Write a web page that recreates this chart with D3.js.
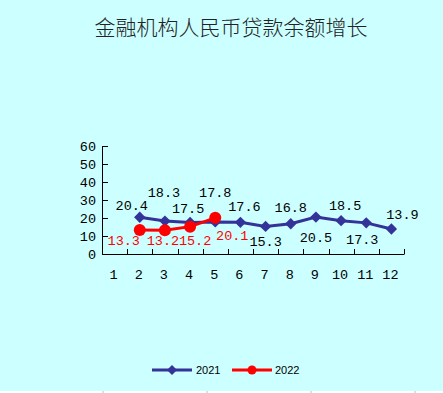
<!DOCTYPE html>
<html><head><meta charset="utf-8">
<script src="https://cdn.jsdelivr.net/npm/d3@7/dist/d3.min.js"></script>
<style>html,body{margin:0;padding:0;background:#ccffff;overflow:hidden}</style>
</head><body><svg id="c" width="443" height="393"></svg>
<script>
const title = "金融机构人民币贷款余额增长";
const months = [1,2,3,4,5,6,7,8,9,10,11,12];
const yTicks = [0,10,20,30,40,50,60];
const months2021 = [2,3,4,5,6,7,8,9,10,11,12];
const values2021 = [20.4,18.3,17.5,17.8,17.6,15.3,16.8,20.5,18.5,17.3,13.9];
const months2022 = [2,3,4,5];
const values2022 = [13.3,13.2,15.2,20.1];
const seriesNames = ["2021","2022"];
// label placement offsets (layout only)
const labelOff2021 = [[-8,-7],[-1,-24],[-2,-10],[0,-25],[4,-11],[0,20],[0,-12],[0,25],[4,-11],[-4,21],[11,-10]];
const labelOff2022 = [[-16,15],[-2,15],[5,18],[17,22]];

const svg = d3.select("#c");
svg.append("rect").attr("width",443).attr("height",393).attr("fill","#ccffff");
svg.append("rect").attr("y",391).attr("width",443).attr("height",2).attr("fill","#fff");
[103,207,311,415].forEach(x=>svg.append("line").attr("x1",x).attr("x2",x).attr("y1",391).attr("y2",393).attr("stroke","#bbb"));

svg.append("text").attr("x",231).attr("y",35).attr("text-anchor","middle")
  .attr("font-family","'Noto Sans CJK SC'").attr("font-weight",300).attr("font-size",21).attr("fill","#222").text(title);

const x = d3.scaleBand().domain(months).range([102,404]);
const y = d3.scaleLinear().domain([0,60]).range([254,146]);
const mono = "'Liberation Mono', monospace";
const fs = 13.5;

const g = svg.append("g");
// axes
g.append("line").attr("x1",102.5).attr("x2",102.5).attr("y1",146).attr("y2",254.5).attr("stroke","#000");
g.append("line").attr("x1",102).attr("x2",404.5).attr("y1",254.5).attr("y2",254.5).attr("stroke","#000");
yTicks.forEach(t=>{
  g.append("line").attr("x1",102).attr("x2",108).attr("y1",Math.round(y(t))+0.5).attr("y2",Math.round(y(t))+0.5).attr("stroke","#000");
  g.append("text").attr("x",96).attr("y",y(t)+5).attr("text-anchor","end").attr("font-family",mono).attr("font-size",fs).text(t);
});
months.forEach((m,i)=>{
  const xb = Math.round(x(m)+x.bandwidth())+0.5;
  g.append("line").attr("x1",xb).attr("x2",xb).attr("y1",249).attr("y2",254).attr("stroke","#000");
  g.append("text").attr("x",x(m)+x.bandwidth()/2-1).attr("y",279).attr("text-anchor","middle").attr("font-family",mono).attr("font-size",fs).text(m);
});

const cx = m => x(m)+x.bandwidth()/2;
const line = d3.line().x(d=>cx(d[0])).y(d=>y(d[1]));
const d21 = months2021.map((m,i)=>[m,values2021[i]]);
const d22 = months2022.map((m,i)=>[m,values2022[i]]);

g.append("path").attr("d",line(d21)).attr("fill","none").attr("stroke","#333399").attr("stroke-width",3);
d21.forEach(d=>{
  g.append("path").attr("d",d3.symbol(d3.symbolSquare,64)())
   .attr("transform",`translate(${cx(d[0])},${y(d[1])}) rotate(45)`).attr("fill","#333399");
});
g.append("path").attr("d",line(d22)).attr("fill","none").attr("stroke","#ff0000").attr("stroke-width",3);
d22.forEach(d=>{
  g.append("circle").attr("cx",cx(d[0])).attr("cy",y(d[1])).attr("r",6).attr("fill","#ff0000");
});
d21.forEach((d,i)=>{
  g.append("text").attr("x",cx(d[0])+labelOff2021[i][0]).attr("y",y(d[1])+labelOff2021[i][1])
   .attr("text-anchor","middle").attr("font-family",mono).attr("font-size",fs).attr("fill","#000").text(d[1].toFixed(1));
});
d22.forEach((d,i)=>{
  g.append("text").attr("x",cx(d[0])+labelOff2022[i][0]).attr("y",y(d[1])+labelOff2022[i][1])
   .attr("text-anchor","middle").attr("font-family",mono).attr("font-size",fs).attr("fill","#ff0000").text(d[1].toFixed(1));
});

// legend
const lg = svg.append("g");
lg.append("line").attr("x1",152).attr("x2",192).attr("y1",370).attr("y2",370).attr("stroke","#333399").attr("stroke-width",3);
lg.append("path").attr("d",d3.symbol(d3.symbolSquare,50)()).attr("transform","translate(172,370) rotate(45)").attr("fill","#333399");
lg.append("text").attr("x",196).attr("y",374).attr("font-family","Arial, 'Liberation Sans'").attr("font-size",11).text(seriesNames[0]);
lg.append("line").attr("x1",232).attr("x2",272).attr("y1",370).attr("y2",370).attr("stroke","#ff0000").attr("stroke-width",3);
lg.append("circle").attr("cx",252).attr("cy",370).attr("r",4.5).attr("fill","#ff0000");
lg.append("text").attr("x",275).attr("y",374).attr("font-family","Arial, 'Liberation Sans'").attr("font-size",11).text(seriesNames[1]);
</script></body></html>
